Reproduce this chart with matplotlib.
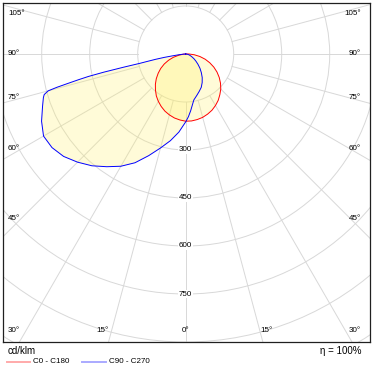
import numpy as np
import matplotlib
matplotlib.use("Agg")
import matplotlib.pyplot as plt
from matplotlib.patches import Circle, Polygon
from matplotlib.lines import Line2D

plt.rcParams['font.family'] = ['Liberation Sans', 'DejaVu Sans']

# ---------------- data (cd/klm) ----------------
# C0 - C180 plane (red): C0 to the right, C180 to the left
gamma_c0 = [0, 5, 10, 15, 20, 25, 30, 35, 40, 45, 50, 55, 60, 65, 70, 75, 80, 85, 90]
i_c0 = [210, 210, 208, 205, 200, 194, 186, 177, 166, 155, 142, 128, 113, 97, 80, 63, 45, 27, 10]
gamma_c180 = [0, 5, 10, 15, 20, 25, 30, 35, 40, 45, 50, 55, 60, 65, 70, 75, 80, 85, 90]
i_c180 = [210, 207, 203, 197, 190, 181, 171, 160, 147, 134, 120, 105, 90, 74, 57, 40, 22, 8, 0]

# C90 - C270 plane (blue): C90 to the right, C270 to the left
gamma_c90 = [0, 2.5, 5, 10, 15, 20, 25, 30, 35, 40, 45, 50, 55, 60, 65, 70, 75, 80, 85, 90]
i_c90 = [212, 196, 178, 146, 134, 124, 115, 103, 90, 76, 63, 50, 39, 30, 22, 16, 11, 7, 3, 0]
gamma_c270 = [0, 5, 10, 15, 20, 25, 30, 35, 40, 45, 50, 55, 60, 65, 70, 73, 74, 75, 75.5,
              76, 76.5, 77, 77.5, 78, 78.5, 79, 80, 81, 82, 84, 87, 90]
i_c270 = [212, 245, 275, 304, 338, 375, 405, 430, 456, 478, 498, 510, 513, 497, 476, 465, 460,
          445, 416, 378, 345, 312, 262, 199, 146, 125, 95, 68, 42, 20, 6, 0]

ring_values = [150, 300, 450, 600, 750, 900, 1050, 1200, 1350, 1500]
ring_labels = [300, 450, 600, 750]
spoke_angles = list(range(0, 360, 15))
angle_labels_side = ['105°', '90°', '75°', '60°', '45°', '30°']
angle_labels_bottom = ['15°', '0°', '15°']
unit_label = 'cd/klm'
legend_labels = ['C0 - C180', 'C90 - C270']
eta_label = 'η = 100%'

# ---------------- figure ----------------
W, H = 373, 371
fig = plt.figure(figsize=(W / 100, H / 100), dpi=100)
ax = fig.add_axes([3 / W, (H - 341.7) / H, 366.5 / W, 339 / H])
CX, CY, S = 185.7, 54.0, 0.32   # pixel centre and px per cd/klm


def px(x, y):
    return (x - CX) / S, (CY - y) / S


x0, y1 = px(3, 2.7)
x1, y0 = px(369.5, 341.7)
ax.set_xlim(x0, x1)
ax.set_ylim(y0, y1)
ax.set_xticks([])
ax.set_yticks([])
for sp in ax.spines.values():
    sp.set_color('#202020')
    sp.set_linewidth(0.9)

grid_c = '#d8d8d8'
for r in ring_values:
    ax.add_patch(Circle((0, 0), r, fill=False, ec=grid_c, lw=0.7, zorder=1))
for a in spoke_angles:
    t = np.radians(a)
    ax.plot([150 * np.sin(t), 2000 * np.sin(t)], [-150 * np.cos(t), -2000 * np.cos(t)],
            color=grid_c, lw=0.7, zorder=1)


def curve(g_right, i_right, g_left, i_left):
    gl = np.radians(np.array(g_left))[::-1]
    il = np.array(i_left)[::-1]
    gr = np.radians(np.array(g_right))
    ir = np.array(i_right)
    xs = np.concatenate([-il * np.sin(gl), ir * np.sin(gr)])
    ys = np.concatenate([-il * np.cos(gl), -ir * np.cos(gr)])
    return xs, ys


planes = [(gamma_c0, i_c0, gamma_c180, i_c180, '#ff0000'),
          (gamma_c90, i_c90, gamma_c270, i_c270, '#0000ff')]
fill_c = '#fff064'
for (gr, ir, gl, il, col) in planes:
    xs, ys = curve(gr, ir, gl, il)
    ax.add_patch(Polygon(np.column_stack([xs, ys]), closed=True, fc=fill_c, ec='none',
                         alpha=0.25, zorder=2))
for (gr, ir, gl, il, col) in planes:
    xs, ys = curve(gr, ir, gl, il)
    ax.plot(np.append(xs, xs[0]), np.append(ys, ys[0]), color=col, lw=0.7, zorder=3)

fs = 5.8
for v in ring_labels:
    ax.text(0, -v, str(v), ha='center', va='center', fontsize=fs, color='#000000', zorder=5,
            bbox=dict(fc='white', ec='none', pad=0.6))

side_y = [14, 54, 98, 149, 219, 331]
for lab, yy in zip(angle_labels_side, side_y):
    xl, yl = px(8, yy)
    ax.text(xl, yl, lab, ha='left', va='center', fontsize=fs, zorder=5)
    xr, yr = px(361, yy)
    ax.text(xr, yr, lab, ha='right', va='center', fontsize=fs, zorder=5)
for lab, xx in zip(angle_labels_bottom, [103, 185.7, 267]):
    xb, yb = px(xx, 331)
    ax.text(xb, yb, lab, ha='center', va='center', fontsize=fs, zorder=5)

# ---------------- legend area ----------------
fig.text(8 / W, 1 - 351.5 / H, unit_label, ha='left', va='center', fontsize=7)
fig.text(362 / W, 1 - 351 / H, eta_label, ha='right', va='center', fontsize=7)
for (xa, xb, xt), col, lab in zip([(7.3, 30, 33.3), (81.7, 106, 108.5)],
                                  ['#ffaaaa', '#aaaaff'], legend_labels):
    fig.add_artist(Line2D([xa / W, xb / W], [1 - 361.7 / H] * 2, color=col, lw=1.4))
    fig.text(xt / W, 1 - 361.7 / H, lab, ha='left', va='center', fontsize=5.8)

fig.savefig('out.png', dpi=100)
